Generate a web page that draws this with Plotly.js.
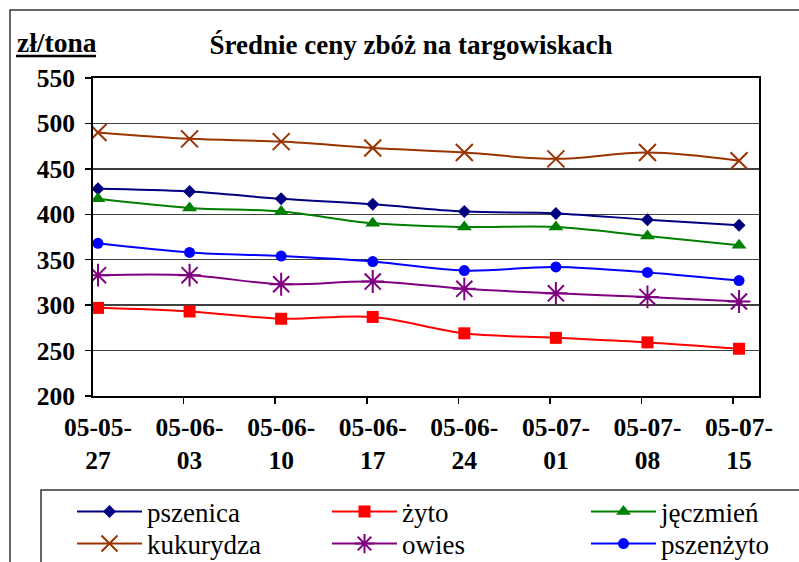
<!DOCTYPE html>
<html>
<head>
<meta charset="utf-8">
<script src="https://cdn.plot.ly/plotly-3.0.1.min.js"></script>
<style>html,body{margin:0;padding:0;background:#fff;}#chart{width:799px;height:562px;}</style>
</head>
<body>
<div id="chart"></div>
<script>
// ---- data (zł/tona) ----
const categories = ['05-05-27','05-06-03','05-06-10','05-06-17','05-06-24','05-07-01','05-07-08','05-07-15'];
const tickLabels = ['05-05-<br>27','05-06-<br>03','05-06-<br>10','05-06-<br>17','05-06-<br>24','05-07-<br>01','05-07-<br>08','05-07-<br>15'];
const seriesNames = ['pszenica','żyto','jęczmień','kukurydza','owies','pszenżyto'];
const pszenica  = [428, 425, 417, 411, 403, 401, 394, 388];
const zyto      = [297, 293, 285, 287, 269, 264, 259, 252];
const jeczmien  = [417, 407, 403, 390, 386, 386, 376, 366];
const kukurydza = [490, 483, 480, 473, 468, 461, 468, 459];
const owies     = [333, 333, 323, 326, 318, 313, 309, 304];
const pszenzyto = [368, 358, 354, 348, 338, 342, 336, 327];
const yTicks = [200, 250, 300, 350, 400, 450, 500, 550];

// ---- styles ----
const styles = [
  {color:'#000080', symbol:'diamond', size:10},
  {color:'#FF0000', symbol:'square', size:12},
  {color:'#008000', symbol:'triangle-up', size:13},
  {color:'#993300', symbol:'x-thin-open', size:17},
  {color:'#800080', symbol:'asterisk-open', size:19},
  {color:'#0000FF', symbol:'circle', size:11}
];
// legend entry positions (px): line start x, row centre y
const legendX = [78, 333, 592, 78, 333, 592];
const legendY = [512, 512, 512, 544, 544, 544];

const values = [pszenica, zyto, jeczmien, kukurydza, owies, pszenzyto];
const xIdx = categories.map((c, i) => i);
const legendIds = values.map((v, i) => i === 0 ? 'legend' : 'legend' + (i + 1));

const traces = values.map((v, i) => ({
  type:'scatter', mode:'lines+markers', name: seriesNames[i], legend: legendIds[i],
  x: xIdx, y: v,
  line:{color: styles[i].color, width:2, shape:'spline', smoothing:1},
  marker:{color: styles[i].color, symbol: styles[i].symbol, size: styles[i].size,
          line:{color: styles[i].color, width: (styles[i].symbol.indexOf('open')>=0 ? 2 : 0)}}
}));

// plot area in px: x 93..759, y 78..396
const W = 799, H = 562, L = 93, R = 759, T = 78, B = 396;
const px = x => (x - L) / (R - L);
const py = y => (B - y) / (B - T);

const serif = '"Liberation Serif", "Times New Roman", Times, serif';

const layout = {
  width: W, height: H,
  margin:{l:L, r:W-R, t:T, b:H-B, pad:0, autoexpand:false},
  paper_bgcolor:'#fff', plot_bgcolor:'#fff',
  showlegend:true,
  title:{text:'<b>Średnie ceny zbóż na targowiskach</b>', font:{family:serif, size:27, color:'#000'},
         xref:'paper', x: px(411), xanchor:'center', yref:'container', y: 1 - 45/H, yanchor:'middle'},
  xaxis:{type:'linear', range:[-0.0546, 7.218], tickmode:'array', tickvals: xIdx, ticktext: tickLabels,
         ticks:'', showgrid:false, zeroline:false, showline:true, mirror:true, linecolor:'#000', linewidth:2,
         tickfont:{family:serif, size:25.5, color:'#000', weight:'bold'}, ticklabelstandoff:7,
         minor:{tick0:-0.065, dtick:1, ticks:'outside', ticklen:6, tickcolor:'#000', tickwidth:1.5, showgrid:false},
         fixedrange:true},
  yaxis:{range:[200, 550], tickmode:'array', tickvals: yTicks, ticks:'outside', ticklen:6, tickcolor:'#000', tickwidth:1.5,
         showgrid:true, gridcolor:'#404040', gridwidth:1.3, zeroline:false, showline:true, mirror:true,
         linecolor:'#000', linewidth:2, tickfont:{family:serif, size:25.5, color:'#000', weight:'bold'},
         ticklabelstandoff:5, fixedrange:true},
  annotations:[
    {text:'<b>zł/tona</b>', xref:'paper', yref:'paper', x: px(15), xanchor:'left', y: py(42), yanchor:'middle',
     showarrow:false, font:{family:serif, size:27.5, color:'#000'}}
  ],
  shapes:[
    {type:'rect', xref:'paper', yref:'paper', x0: px(10), x1: px(830), y0: py(600), y1: py(10),
     line:{color:'#333', width:1.5}, fillcolor:'rgba(0,0,0,0)', layer:'below'},
    {type:'rect', xref:'paper', yref:'paper', x0: px(41), x1: px(830), y0: py(600), y1: py(490),
     line:{color:'#333', width:1.5}, fillcolor:'rgba(0,0,0,0)', layer:'below'},
    {type:'line', xref:'paper', yref:'paper', x0: px(16), x1: px(96), y0: py(56), y1: py(56),
     line:{color:'#000', width:2.5}}
  ]
};
legendIds.forEach((id, i) => {
  layout[id] = {
    orientation:'v', x: px(legendX[i] - 6), xanchor:'left', y: py(legendY[i]), yanchor:'middle',
    font:{family:serif, size:27, color:'#000'}, itemwidth:65,
    bgcolor:'rgba(0,0,0,0)', borderwidth:0, itemclick:false, itemdoubleclick:false
  };
});

Plotly.newPlot('chart', traces, layout, {staticPlot:true, displayModeBar:false});
</script>
</body>
</html>
